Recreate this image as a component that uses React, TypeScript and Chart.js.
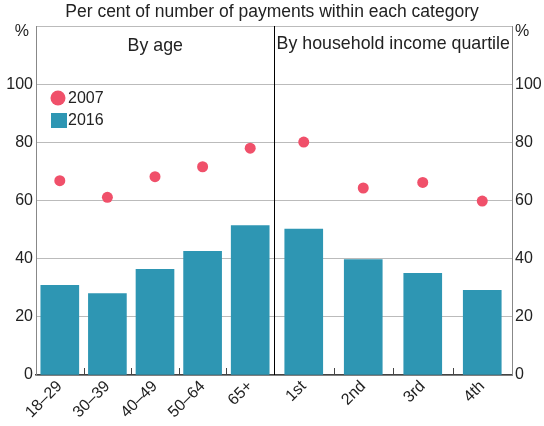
import React, { useEffect, useRef } from "react";
import { Chart, registerables } from "chart.js";

Chart.register(...registerables);

const titleText = "Per cent of number of payments within each category";
const panelLabels = ["By age", "By household income quartile"];
const ageCategories = ["18–29", "30–39", "40–49", "50–64", "65+"];
const incomeCategories = ["1st", "2nd", "3rd", "4th"];
const values2016Age = [30.8, 28.0, 36.3, 42.5, 51.4];
const values2016Income = [50.2, 39.7, 35.0, 29.1];
const values2007Age = [66.8, 61.1, 68.2, 71.6, 78.0];
const values2007Income = [80.1, 64.3, 66.2, 59.8];
const seriesNames = ["2007", "2016"];
const yTickValues = [0, 20, 40, 60, 80, 100];

const FONT = "'Liberation Sans', Arial, sans-serif";
const BAR_COLOR = "#2E96B3";
const DOT_COLOR = "#F0506A";
const TEXT = "#222";

// category positions on the linear x scale: left panel 0..5, right panel 5..10
const agePos = ageCategories.map((_, i) => i + 0.5);
const incomeStep = 5 / incomeCategories.length;
const incomePos = incomeCategories.map((_, j) => 5 + (j + 0.5) * incomeStep);
const allPos = [...agePos, ...incomePos];
const allLabels = [...ageCategories, ...incomeCategories];
const boundaries = [
  ...ageCategories.slice(1).map((_, i) => i + 1),
  ...incomeCategories.slice(1).map((_, j) => 5 + (j + 1) * incomeStep),
];

export default function App() {
  const ref = useRef<HTMLCanvasElement>(null);
  useEffect(() => {
    document.body.style.margin = "0";
    const canvas = ref.current!;
    const overlay = {
      id: "overlay",
      afterDatasetsDraw(chart: any) {
        const ctx = chart.ctx;
        const area = chart.chartArea;
        const x = chart.scales.x;
        ctx.save();
        // divider
        const xd = Math.round(x.getPixelForValue(5)) + 0.5;
        ctx.strokeStyle = "#000";
        ctx.lineWidth = 1;
        ctx.beginPath();
        ctx.moveTo(xd, area.top);
        ctx.lineTo(xd, area.bottom);
        ctx.stroke();
        // tick marks
        ctx.strokeStyle = "#444";
        boundaries.forEach((b) => {
          const px = Math.round(x.getPixelForValue(b)) + 0.5;
          ctx.beginPath();
          ctx.moveTo(px, area.bottom);
          ctx.lineTo(px, area.bottom - 7);
          ctx.stroke();
        });
        ctx.fillStyle = TEXT;
        ctx.textBaseline = "middle";
        ctx.textAlign = "center";
        ctx.font = `17.5px ${FONT}`;
        ctx.fillText(titleText, 272, 12);
        ctx.font = `17.8px ${FONT}`;
        ctx.fillText(panelLabels[0], (area.left + xd) / 2, 46);
        ctx.fillText(panelLabels[1], (xd + area.right) / 2, 44);
        ctx.font = `16px ${FONT}`;
        ctx.textAlign = "right";
        ctx.fillText("%", area.left - 7, 32);
        ctx.textAlign = "left";
        ctx.fillText("%", area.right + 3, 32);
        // legend
        ctx.fillStyle = DOT_COLOR;
        ctx.beginPath();
        ctx.arc(58, 98, 7.5, 0, Math.PI * 2);
        ctx.fill();
        ctx.fillStyle = BAR_COLOR;
        ctx.fillRect(51, 113, 16, 15);
        ctx.fillStyle = TEXT;
        ctx.fillText(seriesNames[0], 68, 99);
        ctx.fillText(seriesNames[1], 68, 121);
        ctx.restore();
      },
    };
    const yCommon = {
      type: "linear",
      min: 0,
      max: 120,
      afterBuildTicks: (s: any) => {
        s.ticks = [...yTickValues, 120].map((v) => ({ value: v }));
      },
      ticks: {
        callback: (v: any) => (yTickValues.includes(v) ? String(v) : ""),
        font: { family: FONT, size: 16 },
        color: TEXT,
        padding: 3,
      },
      border: { display: true, color: "#888", width: 1 },
    };
    const chart = new Chart(canvas, {
      type: "bar",
      data: {
        datasets: [
          {
            type: "line",
            label: seriesNames[0],
            data: [...values2007Age, ...values2007Income].map((v, i) => ({ x: allPos[i], y: v })),
            showLine: false,
            pointRadius: 5.5,
            pointBackgroundColor: DOT_COLOR,
            pointBorderWidth: 0,
            backgroundColor: DOT_COLOR,
            order: 0,
          } as any,
          {
            type: "bar",
            label: seriesNames[1],
            data: [...values2016Age, ...values2016Income].map((v, i) => ({ x: allPos[i], y: v })),
            backgroundColor: BAR_COLOR,
            barThickness: 38,
            order: 1,
          },
        ],
      },
      options: {
        responsive: false,
        animation: false,
        layout: { padding: { top: 26, left: 0, right: 0, bottom: 0 } },
        plugins: { legend: { display: false }, tooltip: { enabled: false }, title: { display: false } },
        scales: {
          x: {
            type: "linear",
            min: 0,
            max: 10,
            offset: false,
            afterBuildTicks: (s: any) => {
              s.ticks = allPos.map((v) => ({ value: v }));
            },
            afterFit: (s: any) => {
              s.height = 51;
            },
            ticks: {
              callback: (v: any) => {
                const i = allPos.findIndex((p) => Math.abs(p - v) < 1e-6);
                return i >= 0 ? allLabels[i] : "";
              },
              autoSkip: false,
              maxRotation: 45,
              minRotation: 45,
              font: { family: FONT, size: 16 },
              color: TEXT,
              padding: 2,
            },
            grid: { display: false, offset: false, drawTicks: false },
            border: { display: true, color: "#444", width: 1.5 },
          },
          y: {
            ...yCommon,
            position: "left",
            afterFit: (s: any) => {
              s.width = 36;
            },
            grid: { color: "#bbb", drawTicks: false, lineWidth: 1 },
          },
          y2: {
            ...yCommon,
            position: "right",
            afterFit: (s: any) => {
              s.width = 32;
            },
            grid: { display: false, drawTicks: false },
          },
        },
      } as any,
      plugins: [overlay],
    });
    return () => chart.destroy();
  }, []);
  return (
    <div style={{ width: 544, height: 426, background: "#fff" }}>
      <canvas ref={ref} width={544} height={426} />
    </div>
  );
}
